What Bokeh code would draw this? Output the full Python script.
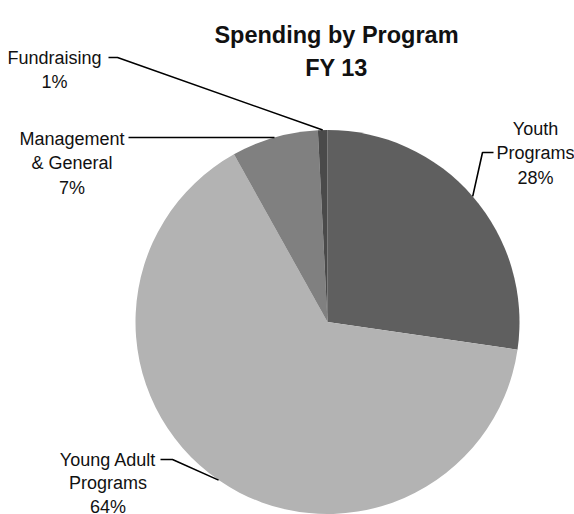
import math
from bokeh.plotting import figure
from bokeh.models import Range1d
from bokeh.core.properties import value
from bokeh.embed import file_html
from bokeh.resources import INLINE

# ---- data ----
categories = ["Youth Programs", "Young Adult Programs", "Management & General", "Fundraising"]
shares = [27.3, 64.6, 7.3, 0.8]
pct_labels = ["28%", "64%", "7%", "1%"]
label_lines = [["Youth", "Programs"], ["Young Adult", "Programs"], ["Management", "& General"], ["Fundraising"]]
colors = ["#5f5f5f", "#b3b3b3", "#808080", "#4a4a4a"]
title_lines = ["Spending by Program", "FY 13"]

W, H = 574, 514
FONT = "Liberation Sans"

def px(x, y):
    # picture pixel -> data coordinate
    return x, H - y

p = figure(width=W, height=H, output_backend="svg", toolbar_location=None,
           x_range=Range1d(0, W), y_range=Range1d(0, H), min_border=0)
p.axis.visible = False
p.grid.visible = False
p.outline_line_color = None
p.background_fill_color = "white"
p.border_fill_color = "white"

cx, cy = px(327, 321.5)
R = 192

total = sum(shares)
starts, ends, mids = [], [], []
acc = 0.0
for s in shares:
    a0 = acc / total * 2 * math.pi
    acc += s
    a1 = acc / total * 2 * math.pi
    starts.append(math.pi / 2 - a0)
    ends.append(math.pi / 2 - a1)
    mids.append(math.pi / 2 - (a0 + a1) / 2)

p.wedge(x=[cx] * len(shares), y=[cy] * len(shares), radius=R,
        start_angle=starts, end_angle=ends, direction="clock",
        fill_color=colors, line_color=None)

# leader lines: elbow / end points (picture px), rim point from slice mid-angle
elbows = [(482, 152), (172, 459), (200, 137), (117, 57)]
ends_pt = [(493, 152), (160, 459), (128, 137), (108, 57)]
for i in range(len(shares)):
    rx = cx + R * math.cos(mids[i])
    ry = cy + R * math.sin(mids[i])
    ex, ey = px(*elbows[i])
    tx, ty = px(*ends_pt[i])
    p.line([rx, ex, tx], [ry, ey, ty], line_color="black", line_width=1.6)

# labels
label_centers = [535, 107.5, 71.5, 54]
label_first_baseline = [128, 459, 138, 57]
line_gap = [24.5, 23.5, 24.5, 24.5]
for i in range(len(shares)):
    lines = label_lines[i] + [pct_labels[i]]
    xs, ys = [], []
    for j, t in enumerate(lines):
        x, y = px(label_centers[i], label_first_baseline[i] + j * line_gap[i])
        xs.append(x)
        ys.append(y)
    p.text(x=xs, y=ys, text=lines, text_font=value(FONT), text_font_size="18px",
           text_align="center", text_baseline="alphabetic", text_color="#111111")

# title
tx, ty1 = px(336, 34)
_, ty2 = px(336, 67)
p.text(x=[tx, tx], y=[ty1, ty2], text=title_lines, text_font=value(FONT),
       text_font_size="23.5px", text_font_style="bold", text_align="center",
       text_baseline="alphabetic", text_color="#111111")

open("out.html", "w").write(file_html(p, INLINE))
